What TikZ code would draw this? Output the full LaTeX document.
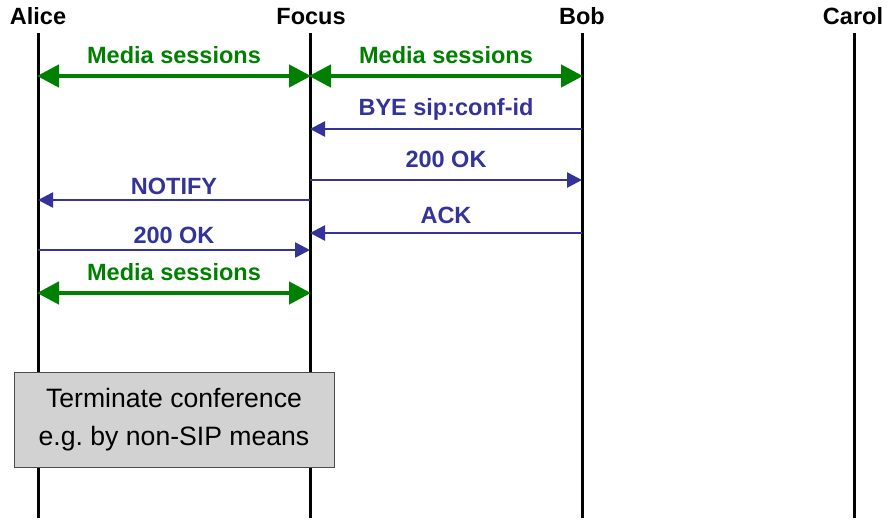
\documentclass[tikz,border=0pt]{standalone}
\usepackage{fontspec}
\setmainfont{Liberation Sans}
\usetikzlibrary{arrows.meta}
\definecolor{media}{RGB}{0,128,0}
\definecolor{sip}{RGB}{51,51,153}
\definecolor{boxgray}{RGB}{210,210,210}
\begin{document}
\begin{tikzpicture}[x=1pt,y=-1pt,
  lifeline/.style={line width=3pt,black},
  header/.style={font=\fontsize{23.5}{28}\selectfont\bfseries,anchor=base,inner sep=0pt},
  medialbl/.style={font=\fontsize{23.5}{28}\selectfont\bfseries,text=media,anchor=base,inner sep=0pt},
  siplbl/.style={font=\fontsize{23.5}{28}\selectfont\bfseries,text=sip,anchor=base,inner sep=0pt},
  mediaarrow/.style={line width=4.5pt,media,{Triangle[length=22pt,width=22pt]}-{Triangle[length=22pt,width=22pt]},shorten <=-1pt,shorten >=-1pt},
  siparrow/.style={line width=2.5pt,sip,-{Triangle[length=15pt,width=15pt]}},
  notebox/.style={draw=black!70,line width=1pt,fill=boxgray,minimum width=320pt,minimum height=95pt,align=center,
    font=\fontsize{26.6}{38}\selectfont,inner sep=0pt}
]
\useasboundingbox (0,0) rectangle (888,520);
% lifelines
\coordinate (At) at (38,33);  \coordinate (Ab) at (38,518);
\coordinate (Ft) at (310,33); \coordinate (Fb) at (310,518);
\coordinate (Bt) at (582,33); \coordinate (Bb) at (582,518);
\coordinate (Ct) at (854,33); \coordinate (Cb) at (854,518);
\draw[lifeline] (At) -- (Ab);
\draw[lifeline] (Ft) -- (Fb);
\draw[lifeline] (Bt) -- (Bb);
\draw[lifeline] (Ct) -- (Cb);
% headers
\node[header] (alice) at (38,24) {Alice};
\node[header] (focus) at (311,24) {Focus};
\node[header] (bob) at (582,24) {Bob};
\node[header] (carol) at (853,24) {Carol};
% media sessions 1
\coordinate (m1a) at (38,76); \coordinate (m1f) at (310,76);
\draw[mediaarrow] (m1a) -- (m1f);
\node[medialbl] (m1l) at (174,63) {Media sessions};
% media sessions 2
\coordinate (m2f) at (310,76); \coordinate (m2b) at (582,76);
\draw[mediaarrow] (m2f) -- (m2b);
\node[medialbl] (m2l) at (446,63) {Media sessions};
% BYE
\coordinate (byeb) at (582,129); \coordinate (byef) at (310,129);
\draw[siparrow] (byeb) -- (byef);
\node[siplbl] (byel) at (446,115) {BYE sip:conf-id};
% 200 OK
\coordinate (ok1f) at (310,180); \coordinate (ok1b) at (582,180);
\draw[siparrow] (ok1f) -- (ok1b);
\node[siplbl] (ok1l) at (446,167) {200 OK};
% NOTIFY
\coordinate (ntf) at (310,200); \coordinate (nta) at (38,200);
\draw[siparrow] (ntf) -- (nta);
\node[siplbl] (ntl) at (174,194) {NOTIFY};
% ACK
\coordinate (ackb) at (582,233); \coordinate (ackf) at (310,233);
\draw[siparrow] (ackb) -- (ackf);
\node[siplbl] (ackl) at (446,223) {ACK};
% 200 OK (Alice to Focus)
\coordinate (ok2a) at (38,250); \coordinate (ok2f) at (310,250);
\draw[siparrow] (ok2a) -- (ok2f);
\node[siplbl] (ok2l) at (174,243) {200 OK};
% media sessions 3
\coordinate (m3a) at (38,293); \coordinate (m3f) at (310,293);
\draw[mediaarrow] (m3a) -- (m3f);
\node[medialbl] (m3l) at (174,280) {Media sessions};
% box
\node[notebox] (term) at (174,419.5) {Terminate conference\\e.g.\ by non-SIP means};
\end{tikzpicture}
\end{document}
